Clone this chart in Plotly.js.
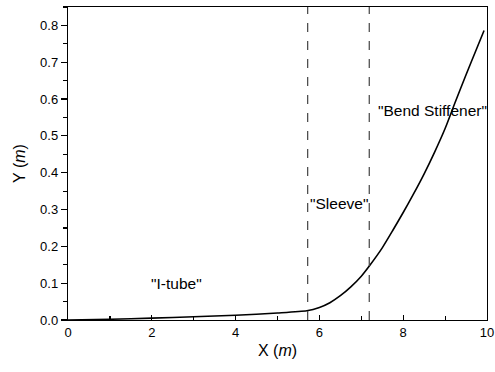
<!DOCTYPE html>
<html>
<head>
<meta charset="utf-8">
<script src="https://cdn.plot.ly/plotly-3.0.1.min.js"></script>
<style>html,body{margin:0;padding:0;background:#fff;}#chart{width:495px;height:372px;}</style>
</head>
<body>
<div id="chart"></div>
<script>
const xValues = [0, 1, 2, 3, 4, 5, 5.7, 6.0, 6.25, 6.5, 6.75, 7.0, 7.2, 7.5, 7.75, 8.0, 8.25, 8.5, 8.75, 9.0, 9.25, 9.5, 9.75, 9.93];
const yValues = [0, 0.002, 0.005, 0.009, 0.013, 0.019, 0.025, 0.034, 0.047, 0.066, 0.09, 0.119, 0.148, 0.196, 0.243, 0.292, 0.343, 0.397, 0.456, 0.52, 0.594, 0.666, 0.736, 0.786];
const sectionBounds = [5.72, 7.19];
const labelTexts = ['"I-tube"', '"Sleeve"', '"Bend Stiffener"'];
const labelX = [2.6, 6.47, 8.7];
const labelY = [0.10, 0.317, 0.57];

const trace = {
  x: xValues, y: yValues, type: 'scatter', mode: 'lines',
  line: {color: '#000', width: 1.6, shape: 'spline', smoothing: 0.6},
  hoverinfo: 'none', showlegend: false
};

const shapes = sectionBounds.map(v => ({
  type: 'line', xref: 'x', yref: 'paper', x0: v, x1: v, y0: 0, y1: 1,
  line: {color: '#444', width: 1.2, dash: 'dash'}
}));

const annotations = labelTexts.map((t, i) => ({
  x: labelX[i], y: labelY[i], xref: 'x', yref: 'y', text: t, showarrow: false,
  font: {family: 'Liberation Sans, Arial, sans-serif', size: 15.5, color: '#000'},
  bgcolor: 'rgba(0,0,0,0)'
}));

const layout = {
  width: 495, height: 372,
  margin: {l: 68, r: 8, t: 7, b: 52},
  paper_bgcolor: '#fff', plot_bgcolor: '#fff',
  font: {family: 'Liberation Sans, Arial, sans-serif', color: '#000'},
  xaxis: {
    range: [0, 10], dtick: 2, tick0: 0, ticks: 'inside', ticklen: 5, tickwidth: 1.2, tickcolor: '#000',
    minor: {dtick: 1, ticks: 'inside', ticklen: 4, tickwidth: 1.2, tickcolor: '#000'},
    showline: true, mirror: true, linecolor: '#000', linewidth: 1.2,
    showgrid: false, zeroline: false,
    tickfont: {size: 13},
    title: {text: 'X (<i>m</i>)', font: {size: 16}, standoff: 6}
  },
  yaxis: {
    range: [0, 0.85], dtick: 0.1, tick0: 0, tickformat: '.1f',
    ticks: 'outside', ticklen: 6, tickwidth: 1.2, tickcolor: '#000',
    minor: {dtick: 0.05, ticks: 'outside', ticklen: 4, tickwidth: 1.2, tickcolor: '#000'},
    showline: true, mirror: true, linecolor: '#000', linewidth: 1.2,
    showgrid: false, zeroline: false,
    tickfont: {size: 13},
    title: {text: 'Y (<i>m</i>)', font: {size: 16}, standoff: 10}
  },
  shapes: shapes,
  annotations: annotations
};

Plotly.newPlot('chart', [trace], layout, {staticPlot: true, displayModeBar: false});
</script>
</body>
</html>
